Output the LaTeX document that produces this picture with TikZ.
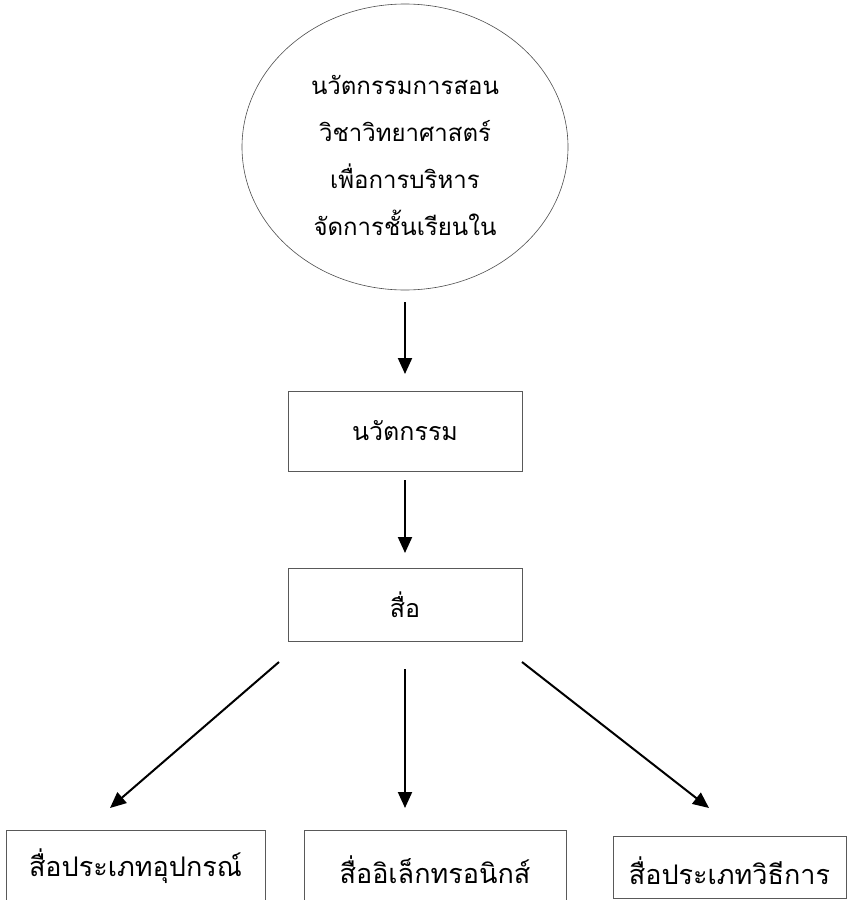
\documentclass[tikz,border=0pt]{standalone}
\usepackage{fontspec}
\newfontfamily\thaifont[Script=Thai]{Loma}
\usetikzlibrary{arrows.meta,shapes.geometric}
\begin{document}
\begin{tikzpicture}[x=1pt,y=-1pt,
  every node/.style={font=\thaifont\fontsize{24}{47}\selectfont},
  boxnode/.style={draw=black!65,line width=0.8pt,inner sep=0pt},
  midbox/.style={boxnode,font=\thaifont\fontsize{25}{30}\selectfont},
  lowbox/.style={boxnode,font=\thaifont\fontsize{27}{32}\selectfont},
  arr/.style={line width=2pt,-{Triangle[length=16pt,width=14pt]}}]
\useasboundingbox (0,0) rectangle (847,900);
\node[ellipse,draw=black!70,line width=0.6pt,minimum width=326pt,minimum height=286pt,inner sep=0pt] (top) at (405,147) {};
\node[align=center] (toptext) at (405,155) {นวัตกรรมการสอน\\วิชาวิทยาศาสตร์\\เพื่อการบริหาร\\จัดการชั้นเรียนใน};
\node[midbox,minimum width=234pt,minimum height=80pt] (inn) at (405,431) {นวัตกรรม};
\node[midbox,minimum width=234pt,minimum height=73pt] (media) at (405,605) {สื่อ};
\node[lowbox,minimum width=259pt,minimum height=72pt] (b1) at (135.5,866) {สื่อประเภทอุปกรณ์};
\node[lowbox,minimum width=262pt,minimum height=80pt] (b2) at (435,870) {สื่ออิเล็กทรอนิกส์};
\node[lowbox,minimum width=233pt,minimum height=62pt] (b3) at (729.5,867) {};
\node[font=\thaifont\fontsize{27}{32}\selectfont] (b3t) at (729.5,871) {สื่อประเภทวิธีการ};
\coordinate (a1s) at (405,302);
\coordinate (a1e) at (405,374);
\coordinate (a2s) at (405,480);
\coordinate (a2e) at (405,553);
\coordinate (l1s) at (279,662);
\coordinate (l1e) at (110,808);
\coordinate (l2s) at (405,669);
\coordinate (l2e) at (405,808);
\coordinate (l3s) at (522,662);
\coordinate (l3e) at (709,808);
\draw[arr] (a1s) -- (a1e);
\draw[arr] (a2s) -- (a2e);
\draw[arr] (l1s) -- (l1e);
\draw[arr] (l2s) -- (l2e);
\draw[arr] (l3s) -- (l3e);
\end{tikzpicture}
\end{document}
